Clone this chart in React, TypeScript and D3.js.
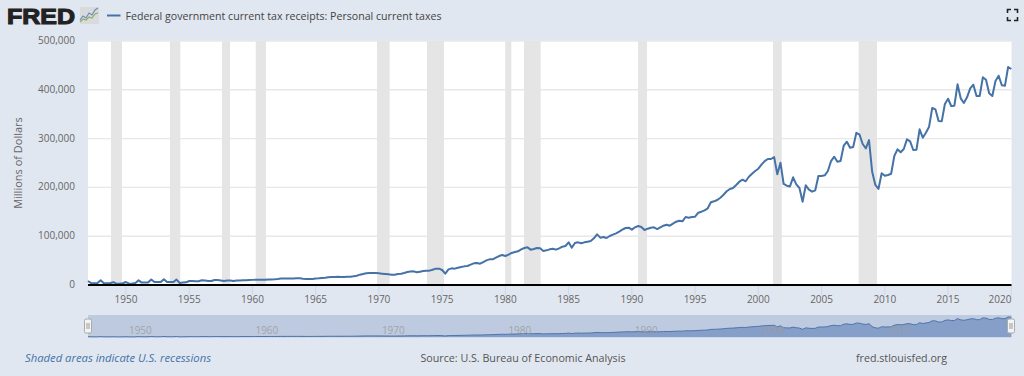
import React from "react";
import * as d3 from "d3";

const firstYear = 1947;
const lastYear = 2020;
const yTicks = [0, 100000, 200000, 300000, 400000, 500000];
const xTicks = [1950, 1955, 1960, 1965, 1970, 1975, 1980, 1985, 1990, 1995, 2000, 2005, 2010, 2015, 2020];
const navTicks = [1950, 1960, 1970, 1980, 1990, 2000, 2010];
const recessionStart = [1948.82, 1953.48, 1957.59, 1960.26, 1969.85, 1973.8, 1979.99, 1981.47, 1990.49, 2001.16, 2007.93];
const recessionEnd = [1949.69, 1954.3, 1958.23, 1961.07, 1970.85, 1975.15, 1980.47, 1982.79, 1991.2, 2001.85, 2009.38];

// Quarterly values in thousands of millions, 1947 Q1 onward
const taxes1947to1966 = [
  8.2, 4, 3.7, 4, 9.6, 3.5, 3.5, 3.5, 6, 2.7, 3, 3.5, 6.1, 2.7, 3, 4,
  9.6, 5, 5, 5, 11.3, 6, 6, 6, 11.7, 6, 6.1, 6, 11, 4, 5, 5.5,
  8.2, 8, 7.6, 7.6, 9.6, 9.2, 8.2, 8.2, 10.2, 10.2, 9.2, 8.2, 9.2, 9.2, 8.2, 9,
  9, 9.6, 9.8, 10.2, 10.5, 10.9, 10.9, 10.9, 11, 11.3, 11.5, 11.7, 12.3, 13.1, 13.3, 13.3,
  13.3, 13.3, 13.7, 13.7, 12.9, 12.3, 12.3, 12.5, 13.3, 13.7, 14.3, 14.8, 15.8, 16.4, 16.4, 16.8,
];
const taxes1967to1990 = [
  16.5, 16.6, 16.8, 17, 17.8, 19.1, 21.2, 22.5, 23.9, 24.6, 24.6, 24.6, 23.9, 23.2, 22.5, 21.9,
  21.2, 21.2, 22.5, 23.2, 24.6, 26.6, 27.7, 28, 26, 27.3, 28.7, 29.4, 29.4, 31.4, 33.5, 33.5,
  30.7, 23.2, 32.1, 34.1, 33.5, 35.5, 36.9, 38.2, 38.9, 41.7, 44.4, 45.1, 43.7, 47.1, 50.5, 52.6,
  52.6, 56, 59.4, 61.5, 59.4, 62.2, 65.6, 67.6, 69, 73.1, 75.8, 77.2, 72.4, 73.8, 75.8, 75.1,
  69.7, 71, 73.1, 74.4, 72.4, 75.1, 78.5, 79.9, 87.4, 76.5, 86, 87.4, 85.4, 87.4, 88.8, 90.2,
  95.6, 103.8, 97, 98.4, 96.3, 100.4, 103.1, 105.9, 109.3, 113.4, 116.8, 117.5, 113.4, 118.2, 120.9, 118.8,
];
const taxes1991to2000 = [
  112.7, 115.4, 117.4, 118.2, 114.7, 118.2, 121.5, 123.6, 121.5, 125.6, 129.7, 131.8,
  130.5, 139.3, 137.9, 139.3, 140, 148.1, 150.2, 153, 157.2, 169.5, 171.5, 174.2,
  178.9, 185, 192, 196.7, 198.8, 204.9, 211.7, 215.8, 212.5, 221.9, 228, 233.6,
  238.3, 246.5, 254, 258.2,
];
const taxes2001to2010 = [
  258.2, 262, 226.8, 250.6, 207, 203.5, 202, 220.7, 206.3, 198.8, 170.7, 204.3,
  195.3, 191.2, 194, 223.3, 223.3, 224.8, 233.6, 254, 262.9, 252.6, 254, 285.4,
  293.6, 281.3, 282.8, 312, 308, 289, 280, 297, 232, 205, 197, 228.9,
];
const taxes2010to2020 = [
  224, 225.4, 228, 264.3, 278, 272, 278.7, 298.5, 294.4, 276.6, 277.2, 319,
  301.8, 312, 324.4, 362.7, 360, 336, 335.4, 370.9, 381.7, 366.8, 367.4, 411.2,
  382.5, 372.9, 384.6, 403, 410.4, 387.3, 387.3, 425.6, 420.7, 392.8, 387.3, 418,
  428.9, 409.2, 408.4, 446.7, 442.6,
];
const taxes = [...taxes1947to1966, ...taxes1967to1990, ...taxes1991to2000, ...taxes2001to2010, ...taxes2010to2020].map((v, i) => ({
  t: firstYear + i / 4,
  v: v * 1000,
}));

const font = "'Open Sans', sans-serif";
const bg = "#e1e7f0";
const blue = "#4572a7";

const x = d3.scaleLinear().domain([firstYear, lastYear]).range([88, 1011.3]);
const y = d3.scaleLinear().domain([0, 500000]).range([285, 41]);
const yNav = d3.scaleLinear().domain([0, 446700]).range([337, 317]);
const fmt = d3.format(",");

const linePath = d3.line<{ t: number; v: number }>().x((d) => x(d.t)).y((d) => y(d.v))(taxes) as string;
const navLine = d3.line<{ t: number; v: number }>().x((d) => x(d.t)).y((d) => yNav(d.v))(taxes) as string;
const navArea = d3.area<{ t: number; v: number }>().x((d) => x(d.t)).y0(337).y1((d) => yNav(d.v))(taxes) as string;

const logoBlue = [0, 3, 6, 9, 12, 15, 18];
const logoBlueY = [13, 9, 11, 6, 8, 3, 1];
const logoGreenY = [15, 12, 13, 10, 11, 7, 6];

function Handle({ cx }: { cx: number }) {
  return (
    <g>
      <rect x={cx - 3.5} y={319} width={7} height={14} rx={1.5} fill="#f4f4f4" stroke="#aaa" />
      <line x1={cx - 1} x2={cx - 1} y1={323} y2={329} stroke="#999" />
      <line x1={cx + 1} x2={cx + 1} y1={323} y2={329} stroke="#999" />
    </g>
  );
}

export default function App() {
  return (
    <svg width={1024} height={376} style={{ position: "fixed", left: 0, top: 0, display: "block" }} fontFamily={font}>
      <rect width={1024} height={376} fill={bg} />

      {/* logo */}
      <text x={7} y={24} fontFamily="'Liberation Sans', sans-serif" fontWeight={700} fontSize={22} fill="#222" stroke="#222" strokeWidth={1.1} textLength={68} lengthAdjust="spacingAndGlyphs">FRED</text>
      <g transform="translate(80,7)">
        <rect width={19} height={17} rx={1.5} fill="#d9dadb" />
        <polyline fill="none" stroke="#6f8fb8" strokeWidth={1.2} points={logoBlue.map((p, i) => `${p},${logoBlueY[i]}`).join(" ")} />
        <polyline fill="none" stroke="#8fae6a" strokeWidth={1.2} points={logoBlue.map((p, i) => `${p},${logoGreenY[i]}`).join(" ")} />
      </g>

      {/* legend */}
      <line x1={107} x2={120.5} y1={15.5} y2={15.5} stroke={blue} strokeWidth={2} />
      <text x={125.5} y={19.5} fontSize={10.7} fill="#444" textLength={316} lengthAdjust="spacingAndGlyphs">Federal government current tax receipts: Personal current taxes</text>

      {/* fullscreen icon */}
      <path d="M1007.5 13V9.5H1011M1014 9.5H1017.5V13M1017.5 17V20.5H1014M1011 20.5H1007.5V17" fill="none" stroke="#222" strokeWidth={1.6} />

      {/* plot */}
      <rect x={88} y={41} width={923.5} height={244} fill="#fff" />
      {yTicks.slice(1).map((t) => (
        <line key={t} x1={88} x2={1011.5} y1={y(t)} y2={y(t)} stroke="#e8e8e8" strokeWidth={1.4} />
      ))}
      {recessionStart.map((s, i) => (
        <rect key={s} x={x(s)} y={41} width={x(recessionEnd[i]) - x(s)} height={244} fill="#e5e5e5" />
      ))}
      {xTicks.map((t) => (
        <line key={t} x1={x(t)} x2={x(t)} y1={285} y2={295} stroke="#ccd6eb" />
      ))}
      <path d={linePath} fill="none" stroke={blue} strokeWidth={2} strokeLinejoin="round" />
      <line x1={88} x2={1011.5} y1={285} y2={285} stroke="#000" strokeWidth={2} />

      {/* axis labels */}
      {yTicks.map((t) => (
        <text key={t} x={75} y={y(t) + 3} textAnchor="end" fontSize={10} fill="#666">{fmt(t)}</text>
      ))}
      {xTicks.map((t) => (
        <text key={t} x={t === 2020 ? 1000 : x(t)} y={303} textAnchor="middle" fontSize={10} fill="#666">{t}</text>
      ))}
      <text transform="translate(22,163) rotate(-90)" textAnchor="middle" fontSize={11} fill="#666">Millions of Dollars</text>

      {/* navigator */}
      <rect x={88} y={315} width={923.5} height={22.5} fill="#bdcadf" />
      <path d={navArea} fill="#5a7cb4" fillOpacity={0.55} />
      <path d={navLine} fill="none" stroke="#4f74ab" strokeWidth={1} />
      {navTicks.map((t) => (
        <text key={t} x={x(t) + 3} y={334} fontSize={10} fill="#999" fillOpacity={0.8}>{t}</text>
      ))}
      <Handle cx={88} />
      <Handle cx={1011} />

      {/* footer */}
      <text x={25} y={362} fontSize={10.7} fontStyle="italic" fill={blue} textLength={186} lengthAdjust="spacingAndGlyphs">Shaded areas indicate U.S. recessions</text>
      <text x={523} y={362} textAnchor="middle" fontSize={10.7} fill="#555">Source: U.S. Bureau of Economic Analysis</text>
      <text x={856} y={362} fontSize={10.7} fill="#555" textLength={91} lengthAdjust="spacingAndGlyphs">fred.stlouisfed.org</text>
    </svg>
  );
}
